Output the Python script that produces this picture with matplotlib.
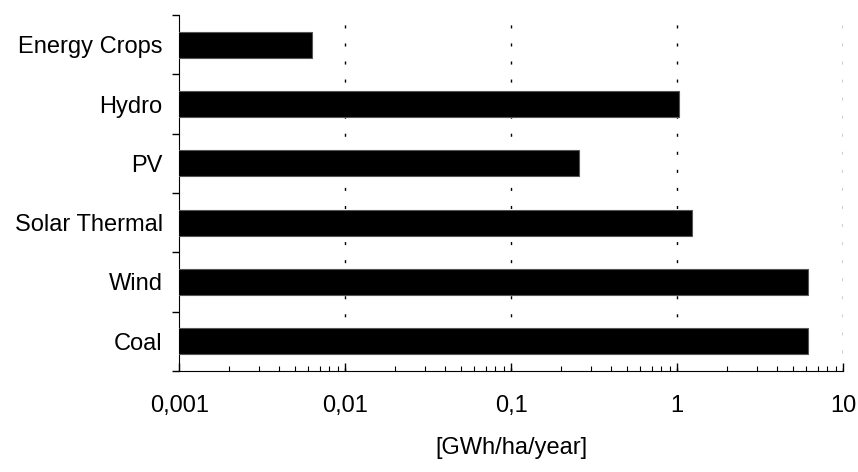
import matplotlib.pyplot as plt
from matplotlib.ticker import FixedLocator, LogLocator, NullFormatter

plt.rcParams['font.family'] = ['Liberation Sans', 'DejaVu Sans']

# Энергоёмкость с гектара, снизу вверх
categories = ['Coal', 'Wind', 'Solar Thermal', 'PV', 'Hydro', 'Energy Crops']
values = [6.13, 6.15, 1.22, 0.256, 1.02, 0.0062]
x_ticks = [0.001, 0.01, 0.1, 1, 10]
x_tick_labels = ['0,001', '0,01', '0,1', '1', '10']

fig = plt.figure(figsize=(8.58, 4.72), dpi=100)
ax = fig.add_axes([179.3 / 858, 1 - 371 / 472, (843.3 - 179.3) / 858, (371 - 15) / 472])

y = list(range(len(categories)))
ax.barh(y, values, height=0.44, left=0.0001, color='black', edgecolor='#555555', linewidth=0.8, zorder=3)

ax.set_xscale('log')
ax.set_xlim(0.001, 10)
ax.set_ylim(-0.5, len(categories) - 0.5)

# ось X
ax.xaxis.set_major_locator(FixedLocator(x_ticks))
ax.set_xticklabels(x_tick_labels)
ax.xaxis.set_minor_locator(LogLocator(base=10, subs=range(2, 10)))
ax.xaxis.set_minor_formatter(NullFormatter())
ax.tick_params(axis='x', which='major', direction='in', length=6, width=1, labelsize=17, pad=17)
ax.tick_params(axis='x', which='minor', direction='in', length=3.5, width=0.8)
ax.set_xlabel('[GWh/ha/year]', fontsize=17, labelpad=15)

# ось Y: подписи по центрам, риски на границах
ax.set_yticks(y)
ax.set_yticklabels(categories)
ax.set_yticks([i - 0.5 for i in range(len(categories) + 1)], minor=True)
ax.tick_params(axis='y', which='major', length=0, labelsize=17, pad=12)
ax.tick_params(axis='y', which='minor', direction='out', length=5, width=1)

for t in x_ticks[1:]:
    ax.axvline(t, color='black', linewidth=1, linestyle=(0, (2.2, 10.8)), zorder=1)

ax.spines['top'].set_visible(False)
ax.spines['right'].set_visible(False)

fig.savefig('out.png', dpi=100)
